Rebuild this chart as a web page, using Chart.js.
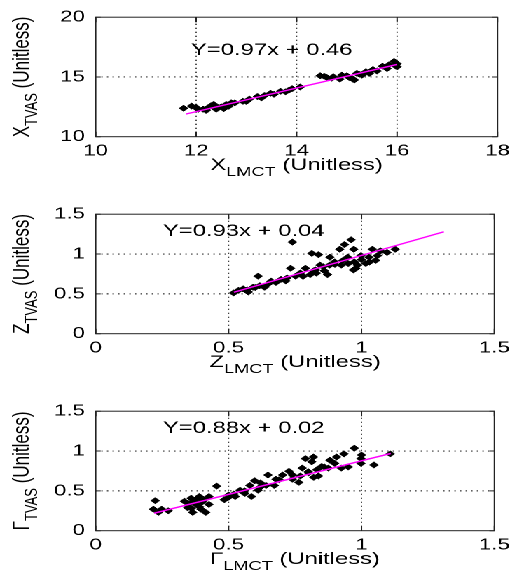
<!DOCTYPE html>
<html>
<head>
<meta charset="utf-8">
<script src="https://cdn.jsdelivr.net/npm/chart.js@4.4.0/dist/chart.umd.min.js"></script>
<style>
  html, body { margin: 0; padding: 0; background: #fff; overflow: hidden; }
  #wrap { position: absolute; left: 0; top: 0; width: 369px; height: 581px; transform: scaleX(1.4011); transform-origin: 0 0; }
  canvas { position: absolute; left: 0; }
</style>
</head>
<body>
<div id="wrap">
  <canvas id="c1" width="369" height="197" style="top:0px"></canvas>
  <canvas id="c2" width="369" height="197" style="top:197px"></canvas>
  <canvas id="c3" width="369" height="187" style="top:394px"></canvas>
</div>
<script>
// X panel
const xLmct = [11.75,11.91,12.04,12.14,12.24,12.30,12.40,12.50,12.60,12.70,12.77,12.93,13.06,13.22,13.36,13.48,13.68,13.78,13.91,14.07,
  14.47,14.60,14.73,14.86,15.00,15.12,15.25,15.38,15.52,15.71,15.84,15.94,15.98,
  12.00,12.20,12.35,12.45,12.55,12.65,14.55,14.70,14.90,15.05,15.15,15.20,15.30,15.45,15.60,15.80,16.00,16.00,13.00,13.30,13.55,13.85];
const xTvas = [12.38,12.56,12.29,12.30,12.43,12.60,12.30,12.50,12.70,12.83,12.83,12.96,13.15,13.36,13.44,13.63,13.80,13.76,14.02,14.16,
  15.10,14.96,15.02,14.82,15.10,14.82,15.22,15.44,15.62,15.90,16.02,16.30,15.90,
  12.45,12.20,12.70,12.45,12.35,12.55,15.05,14.90,15.15,14.95,14.75,15.30,15.15,15.30,15.50,15.70,15.85,16.10,12.95,13.25,13.55,13.90];
const xFitX = [11.8, 16.0];
const xFitY = [11.9, 16.05];
const xTicksX = [10, 12, 14, 16, 18];
const xTicksY = [10, 15, 20];

// Z panel
const zLmct = [0.519,0.537,0.555,0.574,0.592,0.611,0.617,0.635,0.648,0.678,0.697,0.715,0.733,0.740,0.752,0.770,0.789,0.807,0.813,0.826,
  0.838,0.844,0.856,0.872,0.881,0.899,0.918,0.924,0.936,0.948,0.961,0.971,0.973,0.979,0.985,0.998,1.016,1.028,1.041,1.053,
  1.071,1.096,1.127,
  0.97,0.95,0.90,0.86,0.83,0.82,0.78,0.72,0.66,0.60,0.57,1.03,1.06,1.00,0.93,0.88];
const zTvas = [0.512,0.544,0.563,0.524,0.583,0.722,0.603,0.583,0.623,0.643,0.682,0.663,0.821,1.15,0.722,0.762,0.821,0.742,1.008,0.801,
  0.992,0.861,0.841,0.742,0.96,0.901,1.06,0.861,1.119,0.96,1.179,1.06,0.901,0.821,0.861,0.98,0.881,0.96,1.06,0.92,
  1.04,1.02,1.06,
  0.80,0.88,0.87,0.79,0.76,0.79,0.72,0.70,0.66,0.58,0.55,0.90,0.98,0.93,0.92,0.86];
const zFitX = [0.52, 1.31];
const zFitY = [0.52, 1.28];

// Gamma panel
const gLmct = [0.224,0.217,0.248,0.236,0.273,0.334,0.346,0.359,0.365,0.377,0.390,0.396,0.408,0.426,0.414,0.426,0.455,0.484,0.500,0.525,
  0.543,0.561,0.580,0.586,0.598,0.611,0.641,0.648,0.672,0.678,0.703,0.727,0.740,0.764,0.770,0.777,0.789,0.801,0.813,0.819,
  0.832,0.838,0.850,0.875,0.881,0.899,0.906,0.924,0.934,0.973,0.998,0.998,1.047,1.108,
  0.35,0.37,0.38,0.40,0.36,0.39,0.52,0.56,0.62,0.69,0.80,0.86,0.74,0.82,0.62,0.95,1.00,0.50];
const gTvas = [0.377,0.27,0.27,0.23,0.25,0.369,0.289,0.408,0.23,0.33,0.429,0.27,0.389,0.429,0.23,0.33,0.56,0.389,0.448,0.429,
  0.508,0.468,0.568,0.429,0.627,0.508,0.568,0.699,0.568,0.646,0.699,0.746,0.646,0.607,0.687,0.786,0.905,0.726,0.865,0.925,
  0.765,0.687,0.806,0.786,0.885,0.845,0.925,0.786,0.964,1.036,0.905,0.845,0.825,0.964,
  0.34,0.37,0.40,0.36,0.28,0.30,0.46,0.50,0.55,0.64,0.74,0.80,0.70,0.67,0.60,0.80,0.95,0.42];
const gFitX = [0.22, 1.11];
const gFitY = [0.22, 0.97];

const unitTicks = [0, 0.5, 1, 1.5];

const FONT = '"Liberation Sans", Arial, Helvetica, sans-serif';
const PLOT_TOP = 11.7, PLOT_BOTTOM = 136.7, PLOT_LEFT = 68.3, PLOT_RIGHT = 358.8;

Chart.defaults.font.family = FONT;
Chart.defaults.font.size = 16;
Chart.defaults.color = '#000';

function pairs(xs, ys) {
  return xs.map((v, i) => ({ x: v, y: ys[i] }));
}

// draws a string with a subscript, pieces one after another, centred on cx
function drawSubText(ctx, main, sub, rest, cx, cy) {
  ctx.font = '17px ' + FONT;
  const w1 = ctx.measureText(main).width;
  const w3 = ctx.measureText(rest).width;
  ctx.font = '13px ' + FONT;
  const w2 = ctx.measureText(sub).width;
  let x = cx - (w1 + w2 + w3) / 2;
  ctx.textAlign = 'left';
  ctx.textBaseline = 'alphabetic';
  ctx.font = '17px ' + FONT;
  ctx.fillText(main, x, cy);
  x += w1;
  ctx.font = '13px ' + FONT;
  ctx.fillText(sub, x, cy + 6);
  x += w2;
  ctx.font = '17px ' + FONT;
  ctx.fillText(rest, x, cy);
}

const framePlugin = {
  id: 'frame',
  beforeDatasetsDraw(chart) {
    const { ctx, chartArea: a, scales } = chart;
    ctx.save();
    ctx.strokeStyle = '#000';
    ctx.lineWidth = 0.9;
    ctx.setLineDash([1, 3]);
    scales.x.ticks.forEach(t => {
      const px = scales.x.getPixelForValue(t.value);
      if (px <= a.left + 1 || px >= a.right - 1) return;
      ctx.beginPath(); ctx.moveTo(px, a.bottom); ctx.lineTo(px, a.top); ctx.stroke();
    });
    scales.y.ticks.forEach(t => {
      const py = scales.y.getPixelForValue(t.value);
      if (py <= a.top + 1 || py >= a.bottom - 1) return;
      ctx.beginPath(); ctx.moveTo(a.left, py); ctx.lineTo(a.right, py); ctx.stroke();
    });
    ctx.restore();
  },
  afterDatasetsDraw(chart, args, opts) {
    const { ctx, chartArea: a, scales } = chart;
    ctx.save();
    ctx.strokeStyle = '#222';
    ctx.lineWidth = 1;
    ctx.setLineDash([]);
    ctx.strokeRect(a.left, a.top, a.right - a.left, a.bottom - a.top);
    // inward tick marks on all four sides
    scales.x.ticks.forEach(t => {
      const px = scales.x.getPixelForValue(t.value);
      ctx.beginPath();
      ctx.moveTo(px, a.bottom); ctx.lineTo(px, a.bottom - 5);
      ctx.moveTo(px, a.top); ctx.lineTo(px, a.top + 5);
      ctx.stroke();
    });
    scales.y.ticks.forEach(t => {
      const py = scales.y.getPixelForValue(t.value);
      ctx.beginPath();
      ctx.moveTo(a.left, py); ctx.lineTo(a.left + 3.6, py);
      ctx.moveTo(a.right, py); ctx.lineTo(a.right - 3.6, py);
      ctx.stroke();
    });
    ctx.fillStyle = '#000';
    // fit equation
    ctx.font = '17px ' + FONT;
    ctx.textAlign = 'left';
    ctx.textBaseline = 'alphabetic';
    ctx.fillText(opts.eq, opts.eqX, opts.eqY);
    // x title
    drawSubText(ctx, opts.sym, 'LMCT', ' (Unitless)', (a.left + a.right) / 2, 170);
    // y title
    ctx.translate(20.7, (a.top + a.bottom) / 2);
    ctx.rotate(-Math.PI / 2);
    drawSubText(ctx, opts.sym, 'TVAS', ' (Unitless)', 0, 0);
    ctx.restore();
  }
};

function makeChart(id, pts, fit, xr, yr, xt, yt, frame) {
  const canvas = document.getElementById(id);
  const H = canvas.height;
  return new Chart(canvas, {
    type: 'scatter',
    data: {
      datasets: [
        { data: fit, showLine: true, borderColor: '#ff00ff', borderWidth: 1.4, pointRadius: 0, order: 0 },
        { data: pts, pointStyle: 'rectRot', pointRadius: 3.2, backgroundColor: '#000', borderColor: '#000', borderWidth: 0.5, order: 1 }
      ]
    },
    options: {
      responsive: false,
      devicePixelRatio: 2,
      animation: false,
      layout: { padding: { top: PLOT_TOP, right: 369 - PLOT_RIGHT, left: 0, bottom: 0 } },
      plugins: { legend: { display: false }, tooltip: { enabled: false }, frame: frame },
      scales: {
        x: {
          type: 'linear', min: xr[0], max: xr[1],
          afterBuildTicks: s => { s.ticks = xt.map(v => ({ value: v })); },
          afterFit: s => { s.height = H - PLOT_BOTTOM; },
          grid: { display: false, drawTicks: false },
          border: { display: false },
          ticks: { padding: 5, maxRotation: 0, autoSkip: false, color: '#000', callback: v => String(v) }
        },
        y: {
          type: 'linear', min: yr[0], max: yr[1],
          afterBuildTicks: s => { s.ticks = yt.map(v => ({ value: v })); },
          afterFit: s => { s.width = PLOT_LEFT; },
          grid: { display: false, drawTicks: false },
          border: { display: false },
          ticks: { padding: 7.6, color: '#000', callback: v => String(v) }
        }
      }
    },
    plugins: [framePlugin]
  });
}

makeChart('c1', pairs(xLmct, xTvas), pairs(xFitX, xFitY), [10, 18], [10, 20], xTicksX, xTicksY,
  { eq: 'Y=0.97x + 0.46', eqX: 136.3, eqY: 55, sym: 'X' });
makeChart('c2', pairs(zLmct, zTvas), pairs(zFitX, zFitY), [0, 1.5], [0, 1.5], unitTicks, unitTicks,
  { eq: 'Y=0.93x + 0.04', eqX: 116.3, eqY: 39, sym: 'Z' });
makeChart('c3', pairs(gLmct, gTvas), pairs(gFitX, gFitY), [0, 1.5], [0, 1.5], unitTicks, unitTicks,
  { eq: 'Y=0.88x + 0.02', eqX: 116.3, eqY: 39, sym: 'Γ' });
</script>
</body>
</html>
